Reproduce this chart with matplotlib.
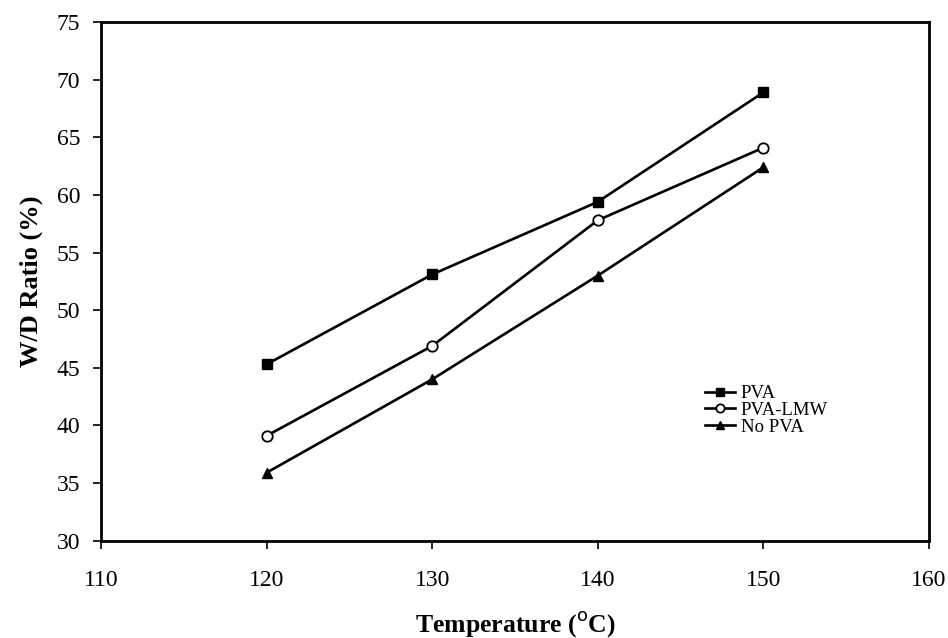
import matplotlib as mpl
import matplotlib.pyplot as plt

mpl.rcParams.update({
    "font.family": "serif",
    "font.serif": ["Liberation Serif", "DejaVu Serif"],
    "font.size": 17,
    "axes.linewidth": 2.0,
})

# W/D ratio vs drying temperature
temperature = [120, 130, 140, 150]
wd_pva = [45.3, 53.1, 59.4, 68.9]
wd_pva_lmw = [39.1, 46.9, 57.8, 64.1]
wd_no_pva = [35.9, 44.0, 53.0, 62.4]

x_ticks = [110, 120, 130, 140, 150, 160]
y_ticks = [30, 35, 40, 45, 50, 55, 60, 65, 70, 75]

fig = plt.figure(figsize=(9.48, 6.38), dpi=100)
ax = fig.add_axes([0.1065, 0.1525, 0.8735, 0.813])

line_kw = dict(color="black", linewidth=1.9, markersize=7.5)
ax.plot(temperature, wd_pva, marker="s", label="PVA", **line_kw)
ax.plot(temperature, wd_pva_lmw, marker="o", markerfacecolor="white",
        markeredgewidth=1.3, label="PVA-LMW", **line_kw)
ax.plot(temperature, wd_no_pva, marker="^", label="No PVA", **line_kw)

ax.set_xlim(110, 160)
ax.set_ylim(30, 75)
ax.set_xticks(x_ticks)
ax.set_yticks(y_ticks)
ax.tick_params(direction="out", length=6, width=1.2, labelsize=17)
ax.tick_params(axis="x", pad=15)
ax.tick_params(axis="y", pad=9)

ax.set_xlabel("Temperature ($^{\\mathrm{o}}$C)", fontsize=18.5, fontweight="bold",
              labelpad=13)
ax.set_ylabel("W/D Ratio (%)", fontsize=19, fontweight="bold", labelpad=10)

ax.legend(loc="upper left", bbox_to_anchor=(0.718, 0.318), frameon=False,
          fontsize=13.5, handlelength=1.6, handletextpad=0.3,
          labelspacing=-0.02, borderpad=0, markerscale=0.8)

fig.savefig("out.png", dpi=100)
